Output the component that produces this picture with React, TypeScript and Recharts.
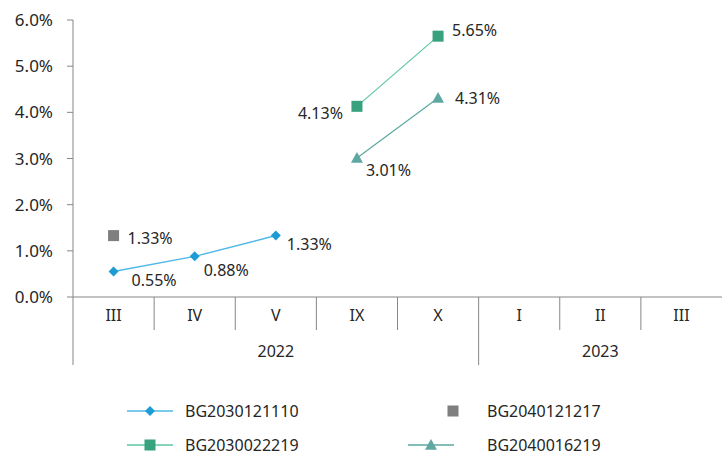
import React from "react";
import { LineChart, Line, XAxis, YAxis, Legend, LabelList } from "recharts";

const months = ["III", "IV", "V", "IX", "X", "I", "II", "III"];
const years = ["2022", "2022", "2022", "2022", "2022", "2023", "2023", "2023"];
const yTicks = [0, 1, 2, 3, 4, 5, 6];

const bg2030121110 = [0.55, 0.88, 1.33, null, null, null, null, null];
const bg2040121217 = [1.33, null, null, null, null, null, null, null];
const bg2030022219 = [null, null, null, 4.13, 5.65, null, null, null];
const bg2040016219 = [null, null, null, 3.01, 4.31, null, null, null];

const data = months.map((m, i) => ({
  month: m,
  year: years[i],
  a: bg2030121110[i],
  b: bg2040121217[i],
  c: bg2030022219[i],
  d: bg2040016219[i],
}));

const FONT = "'Noto Sans', sans-serif";
const TEXT = "#262626";
const AXIS = "#868686";
const CHART_W = 723;
const Y_W = 73;
const BAND = (CHART_W - Y_W - 1) / months.length;
const PAD = { left: BAND / 2, right: BAND / 2 };
const textStyle = { fontFamily: FONT, fontSize: 16 };

// label offsets per point (dx, dy, anchor)
const labelPos: Record<string, Array<[number, number, string]>> = {
  a: [[18, 8, "start"], [9, 14, "start"], [11, 8, "start"]],
  b: [[14, 2, "start"]],
  c: [[0, 0, "start"], [0, 0, "start"], [0, 0, "start"], [-14, 7, "end"], [14, -6, "start"]],
  d: [[0, 0, "start"], [0, 0, "start"], [0, 0, "start"], [9, 12, "start"], [17, 0, "start"]],
};

const makeLabel = (key: string) => (props: any) => {
  const { x, y, value, index } = props;
  if (value == null || x == null || y == null) return null;
  const p = labelPos[key][index] || [10, 0, "start"];
  return (
    <text
      x={x + p[0]}
      y={y + p[1]}
      textAnchor={p[2] as any}
      dominantBaseline="central"
      style={textStyle}
      fill={TEXT}
    >
      {`${value.toFixed(2)}%`}
    </text>
  );
};

const Diamond = ({ cx, cy, fill, s = 5 }: any) =>
  cx == null || cy == null ? null : (
    <path d={`M${cx},${cy - s}L${cx + s},${cy}L${cx},${cy + s}L${cx - s},${cy}Z`} fill={fill} />
  );
const Square = ({ cx, cy, fill, s = 5.5 }: any) =>
  cx == null || cy == null ? null : (
    <rect x={cx - s} y={cy - s} width={s * 2} height={s * 2} fill={fill} />
  );
const Triangle = ({ cx, cy, fill, s = 6 }: any) =>
  cx == null || cy == null ? null : (
    <path d={`M${cx},${cy - s}L${cx + s},${cy + s * 0.8}L${cx - s},${cy + s * 0.8}Z`} fill={fill} />
  );

const dotFor = (Shape: any, fill: string) => (props: any) => {
  if (props.value == null || props.payload == null) return <g key={props.index} />;
  return <Shape key={props.index} cx={props.cx} cy={props.cy} fill={fill} />;
};

const MonthTick = (props: any) => {
  const { x, y, payload } = props;
  const i = payload.index;
  return (
    <g>
      {i === 0 && <line x1={x - BAND / 2} x2={x - BAND / 2} y1={y} y2={y + 33} stroke={AXIS} />}
      {i < months.length - 1 && (
        <line x1={x + BAND / 2} x2={x + BAND / 2} y1={y} y2={y + 33} stroke={AXIS} />
      )}
      <text x={x} y={y + 18} textAnchor="middle" dominantBaseline="central" style={textStyle} fill={TEXT}>
        {months[i]}
      </text>
    </g>
  );
};

const YearTick = (props: any) => {
  const { x, y, payload } = props;
  const i = payload.index;
  if (i > 0 && years[i - 1] === years[i]) return <g />;
  const count = years.filter((v) => v === years[i]).length;
  const left = x - BAND / 2;
  return (
    <g>
      <line x1={left} x2={left} y1={y} y2={y + 35} stroke={AXIS} />
      <text x={left + (count * BAND) / 2} y={y + 21} textAnchor="middle" dominantBaseline="central" style={textStyle} fill={TEXT}>
        {years[i]}
      </text>
    </g>
  );
};

const legendItems = [
  { name: "BG2030121110", line: "#4fb8e6", icon: "diamond", fill: "#1c9bd5", left: 127, top: 46, gap: 12 },
  { name: "BG2040121217", line: null, icon: "square", fill: "#7f7f7f", left: 430, top: 46, gap: 11 },
  { name: "BG2030022219", line: "#5ec7a3", icon: "square", fill: "#38a27f", left: 127, top: 80, gap: 12 },
  { name: "BG2040016219", line: "#5da9a2", icon: "triangle", fill: "#5fa8a2", left: 408, top: 80, gap: 33 },
];

const LegendContent = () => (
  <div style={{ position: "relative", width: 723, height: 90 }}>
    {legendItems.map((it) => (
      <div key={it.name} style={{ position: "absolute", left: it.left, top: it.top - 12, height: 24, display: "flex", alignItems: "center" }}>
        <svg width={46} height={24}>
          {it.line && <line x1={0} x2={46} y1={12} y2={12} stroke={it.line} strokeWidth={1.5} />}
          {it.icon === "diamond" && <Diamond cx={23} cy={12} fill={it.fill} />}
          {it.icon === "square" && <Square cx={23} cy={12} fill={it.fill} />}
          {it.icon === "triangle" && <Triangle cx={23} cy={12} fill={it.fill} />}
        </svg>
        <span style={{ marginLeft: it.gap, fontFamily: FONT, fontSize: 16, color: TEXT }}>{it.name}</span>
      </div>
    ))}
  </div>
);

export default function App() {
  return (
    <div style={{ position: "absolute", left: 0, top: 0, background: "#fff" }}>
      <LineChart width={CHART_W} height={455} data={data} margin={{ top: 20, right: 1, left: 0, bottom: 0 }}>
        <XAxis
          xAxisId="m"
          dataKey="month"
          padding={PAD}
          axisLine={{ stroke: AXIS }}
          tickLine={false}
          tickSize={0}
          tickMargin={0}
          height={33}
          interval={0}
          tick={<MonthTick />}
        />
        <XAxis
          xAxisId="y"
          dataKey="year"
          padding={PAD}
          axisLine={false}
          tickLine={false}
          tickSize={0}
          tickMargin={0}
          height={35}
          interval={0}
          tick={<YearTick />}
        />
        <YAxis
          domain={[0, 6]}
          ticks={yTicks}
          width={Y_W}
          axisLine={{ stroke: AXIS }}
          tickLine={{ stroke: AXIS }}
          tickSize={6}
          tickMargin={14}
          tick={{ fontFamily: FONT, fontSize: 17, fill: TEXT }}
          tickFormatter={(v: number) => `${v.toFixed(1)}%`}
        />
        <Legend verticalAlign="bottom" content={<LegendContent />} wrapperStyle={{ width: 723, height: 90, left: 0 }} />
        <Line xAxisId="m" dataKey="a" name="BG2030121110" stroke="#4fb8e6" strokeWidth={1.5} dot={dotFor(Diamond, "#1c9bd5")} isAnimationActive={false}>
          <LabelList dataKey="a" content={makeLabel("a")} />
        </Line>
        <Line xAxisId="m" dataKey="b" name="BG2040121217" stroke="none" dot={dotFor(Square, "#7f7f7f")} isAnimationActive={false}>
          <LabelList dataKey="b" content={makeLabel("b")} />
        </Line>
        <Line xAxisId="m" dataKey="c" name="BG2030022219" stroke="#5ec7a3" strokeWidth={1.2} dot={dotFor(Square, "#38a27f")} isAnimationActive={false}>
          <LabelList dataKey="c" content={makeLabel("c")} />
        </Line>
        <Line xAxisId="m" dataKey="d" name="BG2040016219" stroke="#5da9a2" strokeWidth={1.2} dot={dotFor(Triangle, "#5fa8a2")} isAnimationActive={false}>
          <LabelList dataKey="d" content={makeLabel("d")} />
        </Line>
      </LineChart>
    </div>
  );
}
